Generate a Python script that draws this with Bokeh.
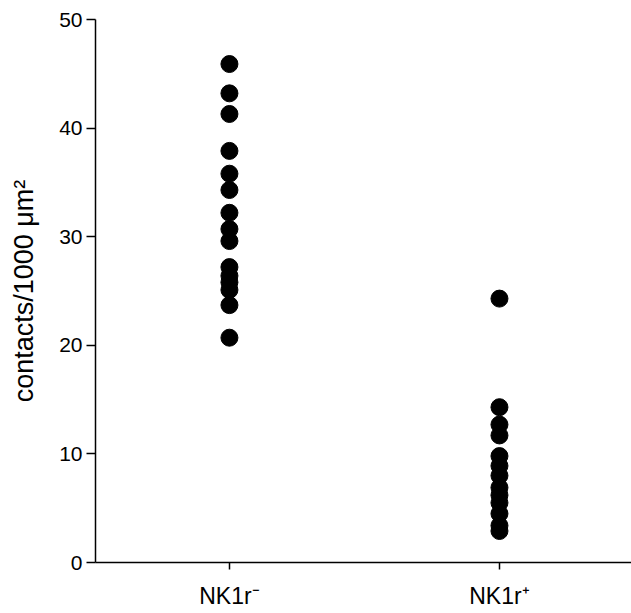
from bokeh.plotting import figure
from bokeh.models import FixedTicker, Range1d, ColumnDataSource
from bokeh.embed import file_html
from bokeh.resources import INLINE

categories = ["NK1r⁻", "NK1r⁺"]
nk1r_neg = [45.9, 43.2, 41.3, 37.9, 35.8, 34.3, 32.2, 30.7, 29.6,
            27.2, 26.4, 25.8, 25.1, 23.7, 20.7]
nk1r_pos = [24.3, 14.3, 12.7, 11.7, 9.8, 8.9, 8.0, 6.9, 6.2, 5.5,
            4.5, 3.4, 2.9]

xs = [1] * len(nk1r_neg) + [2] * len(nk1r_pos)
ys = nk1r_neg + nk1r_pos
src = ColumnDataSource(dict(x=xs, y=ys))

FONT = "Liberation Sans"

p = figure(width=631, height=612, output_backend="svg", toolbar_location=None,
           x_range=Range1d(0.504, 2.489), y_range=Range1d(0, 50),
           min_border_left=95, min_border_right=0, min_border_top=19,
           min_border_bottom=50)
p.outline_line_color = None
p.xgrid.visible = False
p.ygrid.visible = False

p.scatter("x", "y", source=src, size=17, color="black")

xa = p.xaxis[0]
xa.ticker = FixedTicker(ticks=[1, 2])
xa.major_label_overrides = {1: categories[0], 2: categories[1]}
xa.minor_tick_line_color = None
xa.major_tick_in = 0
xa.major_tick_out = 7
xa.major_label_standoff = 13
xa.major_label_text_font = FONT
xa.major_label_text_font_size = "23px"
xa.major_label_text_color = "black"
xa.axis_line_width = 1.5
xa.major_tick_line_width = 1.5

ya = p.yaxis[0]
ya.ticker = FixedTicker(ticks=[0, 10, 20, 30, 40, 50])
ya.minor_tick_line_color = None
ya.major_tick_in = 0
ya.major_tick_out = 9
ya.major_label_standoff = 4
ya.major_label_text_font = FONT
ya.major_label_text_font_size = "21px"
ya.major_label_text_color = "black"
ya.axis_line_width = 1.5
ya.major_tick_line_width = 1.5
ya.axis_label = "contacts/1000 μm²"
ya.axis_label_text_font = FONT
ya.axis_label_text_font_size = "27px"
ya.axis_label_text_font_style = "normal"
ya.axis_label_text_color = "black"
ya.axis_label_standoff = 17

open("out.html", "w").write(file_html(p, INLINE))
